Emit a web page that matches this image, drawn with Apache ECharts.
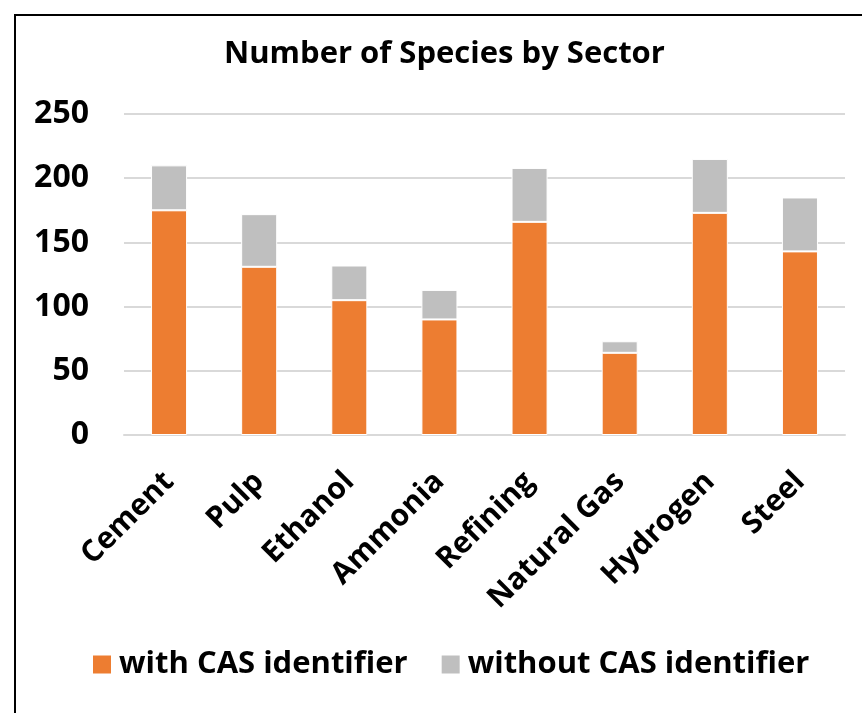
<!DOCTYPE html>
<html>
<head>
<meta charset="utf-8">
<title>Number of Species by Sector</title>
<script src="https://cdn.jsdelivr.net/npm/echarts@6/dist/echarts.min.js"></script>
<style>
  html, body { margin: 0; padding: 0; background: #ffffff; }
  #chart { width: 862px; height: 713px; }
</style>
</head>
<body>
<div id="chart"></div>
<script>
// Sectors and species counts (stacked: with / without CAS identifier)
const sectors = ['Cement', 'Pulp', 'Ethanol', 'Ammonia', 'Refining', 'Natural Gas', 'Hydrogen', 'Steel'];
const withCas = [175, 131, 105, 90, 166, 64, 173, 143];
const withoutCas = [35, 41, 27, 23, 42, 9, 42, 42];
const yTicks = [0, 50, 100, 150, 200, 250];

const FONT = '"Open Sans", "DejaVu Sans", sans-serif';

const chart = echarts.init(document.getElementById('chart'), null, { renderer: 'canvas' });

chart.setOption({
  animation: false,
  backgroundColor: '#ffffff',
  title: {
    text: 'Number of Species by Sector',
    left: 219,
    top: 34,
    textStyle: { fontFamily: FONT, fontWeight: 'bold', fontSize: 31, color: '#000000' }
  },
  graphic: [{
    type: 'rect',
    shape: { x: 15, y: 15, width: 900, height: 760 },
    style: { fill: 'none', stroke: '#000000', lineWidth: 2 },
    silent: true
  }],
  legend: {
    bottom: 28,
    left: 86,
    itemWidth: 20,
    itemHeight: 20,
    itemGap: 32,
    icon: 'rect',
    textStyle: { fontFamily: FONT, fontWeight: 'bold', fontSize: 31, color: '#000000', padding: [0, 0, 0, 2] },
    data: ['with CAS identifier', 'without CAS identifier']
  },
  grid: { left: 124, right: 17, top: 114, bottom: 278, containLabel: false },
  xAxis: {
    type: 'category',
    data: sectors,
    axisTick: { show: false },
    axisLine: { lineStyle: { color: '#D9D9D9', width: 2 } },
    axisLabel: {
      rotate: 45,
      interval: 0,
      margin: 42,
      fontFamily: FONT,
      fontWeight: 'bold',
      fontSize: 30,
      color: '#000000'
    }
  },
  yAxis: {
    type: 'value',
    min: yTicks[0],
    max: yTicks[yTicks.length - 1],
    interval: 50,
    axisLine: { show: false },
    axisTick: { show: false },
    splitLine: { lineStyle: { color: '#D9D9D9', width: 2 } },
    axisLabel: {
      margin: 35,
      fontFamily: FONT,
      fontWeight: 'bold',
      fontSize: 32,
      color: '#000000'
    }
  },
  series: [
    {
      name: 'with CAS identifier',
      type: 'bar',
      stack: 'species',
      barWidth: '40%',
      data: withCas,
      itemStyle: { color: '#ED7D31', borderColor: '#ffffff', borderWidth: 1 }
    },
    {
      name: 'without CAS identifier',
      type: 'bar',
      stack: 'species',
      barWidth: '40%',
      data: withoutCas,
      itemStyle: { color: '#BFBFBF', borderColor: '#ffffff', borderWidth: 1 }
    }
  ]
});
</script>
</body>
</html>
